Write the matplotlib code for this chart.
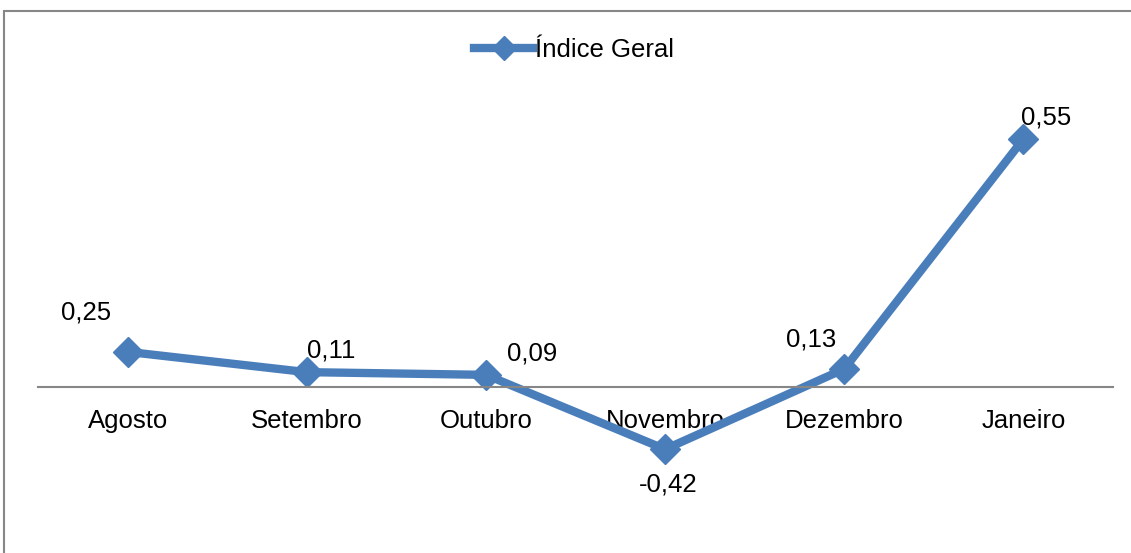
import matplotlib.pyplot as plt
from matplotlib.patches import Rectangle

meses = ["Agosto", "Setembro", "Outubro", "Novembro", "Dezembro", "Janeiro"]
rotulos = ["0,25", "0,11", "0,09", "-0,42", "0,13", "0,55"]
# altura em que cada ponto aparece no gráfico original (não proporcional aos rótulos)
alturas = [0.078, 0.033, 0.027, -0.138, 0.040, 0.55]

cor = "#4A7EBB"
cinza = "#868686"
plt.rcParams["font.family"] = ["Liberation Sans", "DejaVu Sans"]

fig = plt.figure(figsize=(11.31, 5.53), dpi=100)
ax = fig.add_axes([38 / 1131, 13 / 553, 1075 / 1131, 440 / 553])

x = list(range(len(meses)))
ax.plot(x, alturas, color=cor, lw=6, marker="D", markersize=15,
        label="Índice Geral", solid_joinstyle="miter")

# deslocamento dos rótulos em pixels (dx, dy)
desloc = [(-42, 39), (24, 22), (46, 21), (3, -35), (-33, 29), (23, 22)]
for xi, yi, txt, (dx, dy) in zip(x, alturas, rotulos, desloc):
    ax.annotate(txt, (xi, yi), xytext=(dx * 0.72, dy * 0.72), textcoords="offset points",
                ha="center", va="center", fontsize=18.5)

for s in ["top", "left", "right"]:
    ax.spines[s].set_visible(False)
ax.spines["bottom"].set_position(("data", 0))
ax.spines["bottom"].set_color(cinza)
ax.spines["bottom"].set_linewidth(1.5)

ax.set_xlim(-0.5, 5.5)
ax.set_ylim(-0.3393, 0.6366)
ax.set_yticks([])
ax.set_xticks(x)
ax.set_xticklabels(meses, fontsize=18.5)
ax.tick_params(axis="x", length=0, pad=16)
ax.set_zorder(1)
ax.patch.set_alpha(0)

fig.legend(loc="center", bbox_to_anchor=(574 / 1131, 1 - 50 / 553), frameon=False,
           fontsize=18.5, handlelength=2.3, handletextpad=0.05, markerscale=0.8)

fig.patches.append(Rectangle((4 / 1131, -0.2), 2, 1.2 - 11 / 553, transform=fig.transFigure,
                             fill=False, edgecolor=cinza, lw=1.5))

fig.savefig("out.png", dpi=100)
